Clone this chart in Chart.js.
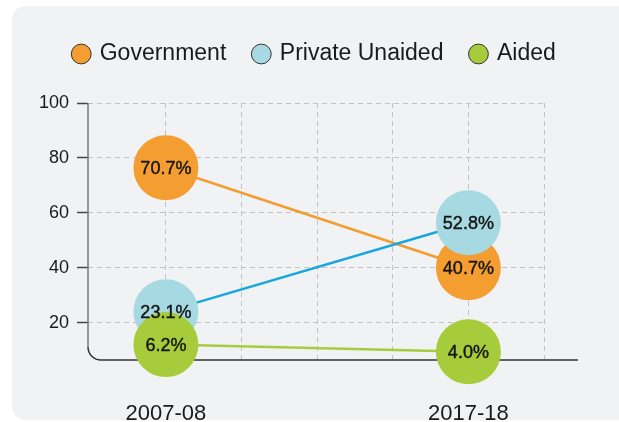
<!DOCTYPE html>
<html>
<head>
<meta charset="utf-8">
<script src="https://cdn.jsdelivr.net/npm/chart.js@4.4.1/dist/chart.umd.min.js"></script>
<style>
    html, body { margin: 0; padding: 0; background: #ffffff; }
    body { width: 619px; height: 422px; position: relative; overflow: hidden; }
    .panel {
        position: absolute; left: 12px; top: 6px;
        width: 640px; height: 414px;
        background: #f1f2f4; border-radius: 14px;
    }
    #chart { position: absolute; left: 0; top: 0; }
</style>
</head>
<body>
<div class="panel"></div>
<canvas id="chart" width="619" height="422"></canvas>
<script>
// Categories and series
const years = ['2007-08', '2017-18'];
const seriesNames = ['Government', 'Private Unaided', 'Aided'];

// Printed shares (%)
const governmentShare = [70.7, 40.7];
const privateShare = [23.1, 52.8];
const aidedShare = [6.2, 4.0];

// Where each bubble sits when read against the y axis
const governmentLevel = [76.4, 40.0];
const privateLevel = [24.0, 56.4];
const aidedLevel = [12.0, 9.4];

const yTicks = [20, 40, 60, 80, 100];

// x slots: the two years sit on the 1st and 5th dashed guide
const yearSlots = [1, 5];
const gridSlots = [1, 2, 3, 4, 5, 6];

const FONT = '"Liberation Sans", Arial, Helvetica, sans-serif';
const fillColors = ['#f49d31', '#a7d9e2', '#a7cc3b'];
const lineColors = ['#f39c32', '#17a7dc', '#a7cd3e'];
const shares = [governmentShare, privateShare, aidedShare];
const levels = [governmentLevel, privateLevel, aidedLevel];

const toPoints = arr => arr.map((v, i) => ({ x: yearSlots[i], y: v }));

// legend sits centred on the whole panel, not just the plot
const legendShift = {
    id: 'legendShift',
    afterLayout(chart) {
        chart.legend.left += 43;
        chart.legend.right += 43;
    }
};

// rounded L-shaped axis under the bubbles
const axisFrame = {
    id: 'axisFrame',
    beforeDatasetsDraw(chart) {
        const { ctx, chartArea } = chart;
        const x0 = chartArea.left;
        const top = chart.scales.y.getPixelForValue(100);
        const bottom = chartArea.bottom;
        const r = 13;
        ctx.save();
        ctx.lineWidth = 1.5;
        ctx.strokeStyle = '#777';
        ctx.beginPath();
        ctx.moveTo(x0, top);
        ctx.lineTo(x0, bottom - r);
        ctx.stroke();
        ctx.strokeStyle = '#333';
        ctx.beginPath();
        ctx.moveTo(x0, bottom - r);
        ctx.arcTo(x0, bottom, x0 + r, bottom, r);
        ctx.lineTo(chartArea.right + 34, bottom);
        ctx.stroke();
        ctx.restore();
    }
};

// percentage text inside each bubble
const bubbleText = {
    id: 'bubbleText',
    afterDatasetsDraw(chart) {
        const ctx = chart.ctx;
        ctx.save();
        ctx.font = '18px ' + FONT;
        ctx.textAlign = 'center';
        ctx.textBaseline = 'middle';
        ctx.fillStyle = '#141414';
        ctx.strokeStyle = '#141414';
        ctx.lineWidth = 0.4;
        chart.data.datasets.forEach((ds, i) => {
            const meta = chart.getDatasetMeta(i);
            meta.data.forEach((pt, j) => {
                const txt = shares[i][j].toFixed(1) + '%';
                ctx.fillText(txt, pt.x, pt.y + 1);
                ctx.strokeText(txt, pt.x, pt.y + 1);
            });
        });
        ctx.restore();
    }
};

const datasets = seriesNames.map((name, i) => ({
    label: name,
    data: toPoints(levels[i]),
    borderColor: lineColors[i],
    backgroundColor: fillColors[i],
    borderWidth: 2.5,
    pointRadius: 32.5,
    pointBackgroundColor: fillColors[i],
    pointBorderWidth: 0,
    pointBorderColor: fillColors[i],
    order: 3 - i,
    clip: false
}));

new Chart(document.getElementById('chart'), {
    type: 'line',
    data: { datasets },
    options: {
        responsive: false,
        animation: false,
        events: [],
        layout: { padding: { top: 14.5, right: 75, bottom: 0, left: 0 } },
        plugins: {
            tooltip: { enabled: false },
            legend: {
                position: 'top',
                labels: {
                    usePointStyle: true,
                    pointStyle: 'circle',
                    boxWidth: 14,
                    boxHeight: 14,
                    padding: 28,
                    color: '#1a1a1a',
                    font: { family: FONT, size: 23 },
                    sort: (a, b) => a.datasetIndex - b.datasetIndex,
                    generateLabels(chart) {
                        return Chart.defaults.plugins.legend.labels.generateLabels(chart).map(item => {
                            item.fillStyle = fillColors[item.datasetIndex];
                            item.strokeStyle = '#333';
                            item.lineWidth = 1;
                            return item;
                        });
                    }
                }
            },
            title: {
                display: true,
                text: '',
                weight: 500,
                font: { size: 10, lineHeight: 1 },
                padding: { top: 17.5, bottom: 0 }
            }
        },
        scales: {
            x: {
                type: 'linear',
                min: -0.03,
                max: 6,
                afterBuildTicks: s => { s.ticks = gridSlots.map(v => ({ value: v })); },
                afterFit: s => { s.height = 62; },
                ticks: {
                    autoSkip: false,
                    maxRotation: 0,
                    padding: 41,
                    color: '#1a1a1a',
                    font: { family: FONT, size: 22 },
                    callback: v => {
                        const k = yearSlots.indexOf(v);
                        return k >= 0 ? years[k] : '';
                    }
                },
                grid: { color: '#c2c2c2', lineWidth: 1, drawTicks: false },
                border: { display: false, dash: [5, 4] }
            },
            y: {
                min: 6.4,
                max: 100,
                afterBuildTicks: s => { s.ticks = yTicks.map(v => ({ value: v })); },
                afterFit: s => { s.width = 88; },
                ticks: {
                    padding: 8,
                    color: '#1a1a1a',
                    font: { family: FONT, size: 18 }
                },
                grid: {
                    color: '#c2c2c2',
                    lineWidth: 1,
                    tickLength: 11,
                    tickColor: '#444',
                    tickWidth: 1.5,
                    tickBorderDash: []
                },
                border: { display: false, dash: [5, 4] }
            }
        }
    },
    plugins: [legendShift, axisFrame, bubbleText]
});
</script>
</body>
</html>
